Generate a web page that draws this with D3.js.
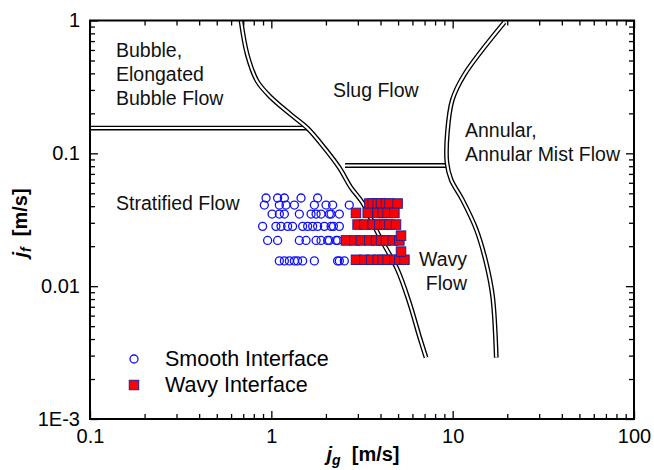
<!DOCTYPE html>
<html lang="en">
<head>
<meta charset="UTF-8">
<title>Flow regime map</title>
<script src="https://d3js.org/d3.v7.min.js"></script>
<style>
    body { margin: 0; background: #fff; }
    svg { display: block; font-family: "Liberation Sans", Arial, sans-serif; }
    .tick line { stroke: #000; stroke-width: 1.3; }
    .tick text { font-size: 20px; fill: #000; }
    .region { font-size: 19.5px; fill: #111; }
</style>
</head>
<body>
<div id="chart"></div>
<script>
    // axis ticks
    const xMajor = [0.1, 1, 10, 100];
    const xMajorLabels = ["0.1", "1", "10", "100"];
    const yMajor = [0.001, 0.01, 0.1, 1];
    const yMajorLabels = ["1E-3", "0.01", "0.1", "1"];

    // stratified -> intermittent boundary
    const stratJg = [0.68, 0.737, 0.837, 1.0, 1.28, 1.58, 1.96, 2.37, 2.75, 3.18, 3.94, 4.95, 5.77, 6.55, 7.13];
    const stratJf = [1.0, 0.552, 0.348, 0.262, 0.196, 0.155, 0.11, 0.078, 0.0552, 0.0426, 0.0238, 0.0134, 0.00754, 0.0042, 0.0029];

    // annular boundary
    const annJg = [19.3, 11.6, 9.96, 9.35, 9.3, 9.8, 11.3, 13.5, 15.3, 16.6, 17.4];
    const annJf = [0.97, 0.391, 0.253, 0.143, 0.085, 0.0634, 0.0449, 0.0267, 0.015, 0.0084, 0.0029];

    // horizontal boundaries
    const bubbleJg = [0.1, 1.58];
    const bubbleJf = [0.155, 0.155];
    const slugJg = [2.55, 9.3];
    const slugJf = [0.081, 0.081];

    // smooth interface data (rows of equal jf)
    const smoothJf = [0.0461, 0.0408, 0.0349, 0.0282, 0.0221, 0.0155];
    const smoothJg = [
        [0.935, 1.083, 1.18, 1.458, 1.8],
        [0.915, 1.107, 1.205, 1.34, 1.727, 2.003, 2.178, 2.69],
        [1.01, 1.107, 1.18, 1.427, 1.656, 1.765, 1.88, 2.089, 2.135, 2.372],
        [0.895, 1.06, 1.131, 1.23, 1.31, 1.488, 1.586, 1.69, 1.8, 1.96, 2.135, 2.2, 2.372],
        [0.954, 1.083, 1.427, 1.554, 1.765, 1.88, 2.044, 2.089, 2.275, 2.321],
        [1.107, 1.18, 1.257, 1.34, 1.396, 1.488, 1.727, 2.321, 2.372, 2.527]
    ];

    // wavy interface data
    const wavyJf = [0.0419, 0.0356, 0.0291, 0.0221, 0.0158];
    const wavyJg = [
        [3.47, 3.62, 3.86, 4.03, 4.29, 4.48, 4.97],
        [2.93, 3.40, 3.86, 4.11, 4.38, 4.77],
        [2.99, 3.26, 3.62, 3.94, 4.20, 4.48, 4.87],
        [2.58, 2.87, 3.12, 3.47, 3.78, 4.03, 4.29, 4.67, 5.08],
        [2.93, 3.26, 3.55, 3.86, 4.11, 4.38, 4.77, 5.08, 5.42]
    ];
    const wavyExtraJg = [5.19, 5.19];
    const wavyExtraJf = [0.024, 0.0182];

    const width = 654, height = 470;
    const margin = { top: 20.5, right: 20, bottom: 51, left: 90 };

    const svg = d3.select("#chart").append("svg")
        .attr("width", width)
        .attr("height", height);

    const x = d3.scaleLog().domain([0.1, 100]).range([margin.left, width - margin.right]);
    const y = d3.scaleLog().domain([0.001, 1]).range([height - margin.bottom, margin.top]);

    const minorOf = (lo, hi) => {
        const out = [];
        for (let d = lo; d < hi * 0.99; d *= 10)
            for (let k = 2; k <= 9; k++) out.push(d * k);
        return out;
    };
    const xMinor = minorOf(0.1, 100);
    const yMinor = minorOf(0.001, 1);

    const plotW = width - margin.left - margin.right;
    const plotH = height - margin.top - margin.bottom;

    // bottom axis
    const axBottom = svg.append("g").attr("transform", `translate(0,${height - margin.bottom})`);
    axBottom.append("g").call(d3.axisBottom(x).tickValues(xMinor).tickSize(-5).tickFormat(""));
    axBottom.append("g").call(d3.axisBottom(x).tickValues(xMajor).tickSize(-8).tickPadding(10)
        .tickFormat((d, i) => xMajorLabels[i]));
    // top axis
    const axTop = svg.append("g").attr("transform", `translate(0,${margin.top})`);
    axTop.append("g").call(d3.axisTop(x).tickValues(xMinor).tickSize(-5).tickFormat(""));
    axTop.append("g").call(d3.axisTop(x).tickValues(xMajor).tickSize(-8).tickFormat(""));
    // left axis
    const axLeft = svg.append("g").attr("transform", `translate(${margin.left},0)`);
    axLeft.append("g").call(d3.axisLeft(y).tickValues(yMinor).tickSize(-5).tickFormat(""));
    axLeft.append("g").call(d3.axisLeft(y).tickValues(yMajor).tickSize(-8).tickPadding(10)
        .tickFormat((d, i) => yMajorLabels[i]));
    // right axis
    const axRight = svg.append("g").attr("transform", `translate(${width - margin.right},0)`);
    axRight.append("g").call(d3.axisRight(y).tickValues(yMinor).tickSize(-5).tickFormat(""));
    axRight.append("g").call(d3.axisRight(y).tickValues(yMajor).tickSize(-8).tickFormat(""));

    svg.selectAll(".domain").remove();

    // double-line boundaries
    const line = d3.line().x(d => x(d[0])).y(d => y(d[1])).curve(d3.curveCatmullRom.alpha(0.5));
    const zip = (a, b) => a.map((v, i) => [v, b[i]]);
    const boundaries = [zip(bubbleJg, bubbleJf), zip(slugJg, slugJf), zip(stratJg, stratJf), zip(annJg, annJf)];

    svg.append("clipPath").attr("id", "plot-clip")
        .append("rect").attr("x", margin.left).attr("y", margin.top).attr("width", plotW).attr("height", plotH);

    const bg = svg.append("g").attr("clip-path", "url(#plot-clip)");
    boundaries.forEach(pts => {
        bg.append("path").attr("d", line(pts)).attr("fill", "none")
            .attr("stroke", "#000").attr("stroke-width", 4.8);
        bg.append("path").attr("d", line(pts)).attr("fill", "none")
            .attr("stroke", "#fff").attr("stroke-width", 2.1);
    });

    // smooth interface circles
    const smoothPts = [];
    smoothJg.forEach((row, i) => row.forEach(v => smoothPts.push([v, smoothJf[i]])));
    svg.append("g").selectAll("circle")
        .data(smoothPts)
        .enter()
        .append("circle")
        .attr("cx", d => x(d[0]))
        .attr("cy", d => y(d[1]))
        .attr("r", 4)
        .attr("fill", "none")
        .attr("stroke", "#1010ff")
        .attr("stroke-width", 1.3);

    // wavy interface squares
    const wavyPts = [];
    wavyJg.forEach((row, i) => row.forEach(v => wavyPts.push([v, wavyJf[i]])));
    wavyExtraJg.forEach((v, i) => wavyPts.push([v, wavyExtraJf[i]]));
    const sq = 9.5;
    svg.append("g").selectAll("rect")
        .data(wavyPts)
        .enter()
        .append("rect")
        .attr("x", d => x(d[0]) - sq / 2)
        .attr("y", d => y(d[1]) - sq / 2)
        .attr("width", sq)
        .attr("height", sq)
        .attr("fill", "#ff0000")
        .attr("stroke", "#22229a")
        .attr("stroke-width", 1);

    // frame
    svg.append("rect")
        .attr("x", margin.left).attr("y", margin.top)
        .attr("width", plotW).attr("height", plotH)
        .attr("fill", "none").attr("stroke", "#000").attr("stroke-width", 2);

    // region labels
    const regions = [
        { t: "Bubble,", x: 116, y: 57 },
        { t: "Elongated", x: 116, y: 81 },
        { t: "Bubble Flow", x: 116, y: 105 },
        { t: "Slug Flow", x: 333, y: 97 },
        { t: "Annular,", x: 465, y: 137 },
        { t: "Annular Mist Flow", x: 465, y: 161 },
        { t: "Stratified Flow", x: 116, y: 210 }
    ];
    svg.selectAll(".region-l").data(regions).enter().append("text")
        .attr("class", "region")
        .attr("x", d => d.x).attr("y", d => d.y)
        .text(d => d.t);
    svg.append("text").attr("class", "region").attr("x", 467).attr("y", 266)
        .attr("text-anchor", "end").text("Wavy");
    svg.append("text").attr("class", "region").attr("x", 467).attr("y", 290)
        .attr("text-anchor", "end").text("Flow");

    // legend
    const legend = svg.append("g");
    legend.append("circle").attr("cx", 134).attr("cy", 359).attr("r", 4)
        .attr("fill", "none").attr("stroke", "#1010ff").attr("stroke-width", 1.3);
    legend.append("text").attr("x", 165).attr("y", 366).style("font-size", "21.5px")
        .text("Smooth Interface");
    legend.append("rect").attr("x", 134 - sq / 2).attr("y", 385 - sq / 2).attr("width", sq).attr("height", sq)
        .attr("fill", "#ff0000").attr("stroke", "#22229a").attr("stroke-width", 1);
    legend.append("text").attr("x", 165).attr("y", 392).style("font-size", "21.5px")
        .text("Wavy Interface");

    // axis titles
    const xt = svg.append("text").attr("x", 363).attr("y", 461)
        .attr("text-anchor", "middle").style("font-size", "20px").style("font-weight", "bold");
    xt.append("tspan").style("font-style", "italic").text("j");
    xt.append("tspan").style("font-style", "italic").style("font-size", "14px").attr("dy", 4).text("g");
    xt.append("tspan").attr("dy", -4).text("\u00a0 [m/s]");

    const yt = svg.append("text").attr("transform", "translate(27,223) rotate(-90)")
        .attr("text-anchor", "middle").style("font-size", "20px").style("font-weight", "bold");
    yt.append("tspan").style("font-style", "italic").text("j");
    yt.append("tspan").style("font-style", "italic").style("font-size", "14px").attr("dy", 4).text("f");
    yt.append("tspan").attr("dy", -4).text("\u00a0 [m/s]");
</script>
</body>
</html>
